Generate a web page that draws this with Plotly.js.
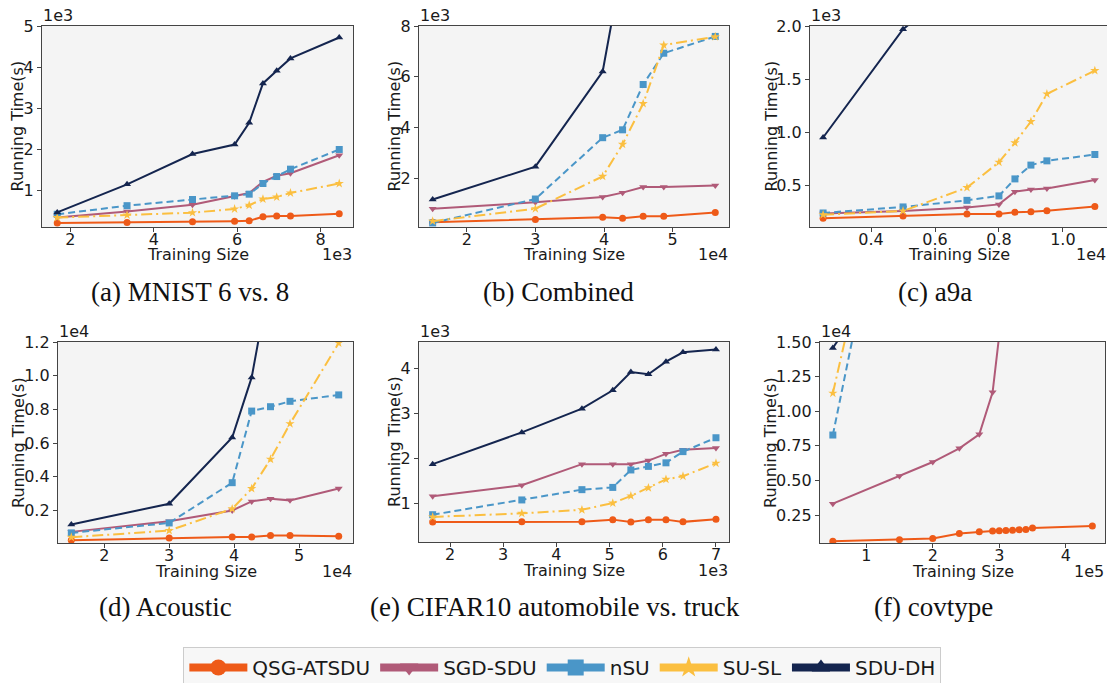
<!DOCTYPE html>
<html><head><meta charset="utf-8">
<script src="https://cdn.plot.ly/plotly-3.0.1.min.js"></script>
<style>html,body{margin:0;padding:0;background:#fff}#chart{width:1107px;height:683px}</style>
</head><body><div id="chart"></div>
<script>
const W = 1107, H = 683;
const seriesNames = ['QSG-ATSDU', 'SGD-SDU', 'nSU', 'SU-SL', 'SDU-DH'];
const seriesColors = ['#ee5a18', '#b05a78', '#4a96c8', '#fbbf40', '#14254f'];
const seriesSymbols = ['circle', 'triangle-down', 'square', 'star', 'triangle-up'];
const seriesDashes = ['solid', 'solid', '7px,4px', '11px,4px,2px,4px', 'solid'];

// (a) MNIST 6 vs. 8
const mnistX = [1685, 3360, 4930, 5940, 6290, 6620, 6950, 7280, 8450];
const mnistQSG = [200, 210, 230, 240, 250, 350, 370, 370, 420];
const mnistSGD = [330, 480, 640, 850, 930, 1200, 1350, 1410, 1850];
const mnistNSU = [410, 620, 770, 860, 900, 1160, 1330, 1510, 1990];
const mnistSUSL = [330, 390, 450, 540, 630, 780, 830, 930, 1160];
const mnistSDUDH = [455, 1140, 1880, 2110, 2640, 3600, 3910, 4210, 4720];

// (b) Combined
const combX = [15040, 30000, 39800, 42700, 45700, 48700, 56200];
const combQSG = [290, 390, 480, 440, 520, 520, 670];
const combSGD = [820, 1070, 1280, 1450, 1670, 1670, 1730];
const combNSU = [260, 1200, 3610, 3920, 5700, 6930, 7590];
const combSUSL = [330, 820, 2090, 3350, 4950, 7250, 7580];
const combSDUDH = [1180, 2470, 6210, 10500];

// (c) a9a
const a9aX = [2500, 5000, 7000, 8000, 8500, 9000, 9500, 11000];
const a9aQSG = [190, 210, 230, 230, 245, 250, 260, 300];
const a9aSGD = [233, 258, 290, 320, 440, 460, 470, 550];
const a9aNSU = [239, 296, 358, 400, 560, 690, 730, 790];
const a9aSUSL = [223, 258, 478, 717, 900, 1100, 1360, 1580];
const a9aSDUDH = [950, 1970, 2450];

// (d) Acoustic
const acouX = [14930, 30000, 39700, 42700, 45600, 48600, 56100];
const acouQSG = [230, 370, 430, 430, 510, 510, 470];
const acouSGD = [730, 1360, 2000, 2540, 2700, 2600, 3300];
const acouNSU = [670, 1260, 3650, 7900, 8160, 8480, 8860];
const acouSUSL = [410, 810, 2100, 3300, 5040, 7150, 11940];
const acouSDUDH = [1170, 2400, 6330, 9900, 16000];

// (e) CIFAR10 automobile vs. truck
const cifarX = [1674, 3350, 4480, 5060, 5400, 5730, 6060, 6380, 7000];
const cifarQSG = [575, 580, 580, 630, 575, 630, 630, 580, 640];
const cifarSGD = [1150, 1400, 1870, 1870, 1870, 1950, 2100, 2190, 2230];
const cifarNSU = [740, 1070, 1300, 1350, 1740, 1820, 1900, 2150, 2460];
const cifarSUSL = [690, 770, 850, 1000, 1160, 1340, 1530, 1600, 1890];
const cifarSDUDH = [1870, 2580, 3110, 3520, 3930, 3880, 4160, 4370, 4430];

// (f) covtype
const covQSGX = [49800, 150000, 200000, 240000, 270000, 290000, 300000, 310000, 320000, 330000, 340000, 350000, 440000];
const covQSG = [600, 720, 810, 1170, 1300, 1340, 1370, 1390, 1410, 1440, 1460, 1560, 1700];
const covSGDX = [49800, 150000, 200000, 240000, 270000, 290000, 300000];
const covSGD = [3320, 5320, 6330, 7320, 8330, 11370, 15500];
const covOtherX = [49800, 150000];
const covNSU = [8280, 31800];
const covSUSL = [11300, 32300];
const covSDUDH = [14570, 21700];

// tick labels
const aXTicks = [2000, 4000, 6000, 8000], aXText = ['2', '4', '6', '8'];
const aYTicks = [1000, 2000, 3000, 4000, 5000], aYText = ['1', '2', '3', '4', '5'];
const bXTicks = [20000, 30000, 40000, 50000], bXText = ['2', '3', '4', '5'];
const bYTicks = [2000, 4000, 6000, 8000], bYText = ['2', '4', '6', '8'];
const cXTicks = [4000, 6000, 8000, 10000], cXText = ['0.4', '0.6', '0.8', '1.0'];
const cYTicks = [500, 1000, 1500, 2000], cYText = ['0.5', '1.0', '1.5', '2.0'];
const dXTicks = [20000, 30000, 40000, 50000], dXText = ['2', '3', '4', '5'];
const dYTicks = [2000, 4000, 6000, 8000, 10000, 12000], dYText = ['0.2', '0.4', '0.6', '0.8', '1.0', '1.2'];
const eXTicks = [2000, 3000, 4000, 5000, 6000, 7000], eXText = ['2', '3', '4', '5', '6', '7'];
const eYTicks = [1000, 2000, 3000, 4000], eYText = ['1', '2', '3', '4'];
const fXTicks = [100000, 200000, 300000, 400000], fXText = ['1', '2', '3', '4'];
const fYTicks = [2500, 5000, 7500, 10000, 12500, 15000], fYText = ['0.25', '0.50', '0.75', '1.00', '1.25', '1.50'];

const xTitle = 'Training Size';
const yTitle = 'Running Time(s)';
const captions = ['(a) MNIST 6 vs. 8', '(b) Combined', '(c) a9a', '(d) Acoustic', '(e) CIFAR10 automobile vs. truck', '(f) covtype'];

const panels = [
  {box: [42, 353, 26, 227], xr: [1320, 8780], yr: [100, 5000], xt: [aXTicks, aXText], yt: [aYTicks, aYText], xe: '1e3', ye: '1e3', yto: 25,
   series: [[mnistX, mnistQSG], [mnistX, mnistSGD], [mnistX, mnistNSU], [mnistX, mnistSUSL], [mnistX, mnistSDUDH]], cap: [190, 292]},
  {box: [419, 729, 26, 227], xr: [13050, 58200], yr: [100, 8000], xt: [bXTicks, bXText], yt: [bYTicks, bYText], xe: '1e4', ye: '1e3', yto: 25,
   series: [[combX, combQSG], [combX, combSGD], [combX, combNSU], [combX, combSUSL], [combX, combSDUDH]], cap: [558, 292]},
  {box: [810, 1107, 26, 227], xr: [2090, 11380], yr: [107, 2000], xt: [cXTicks, cXText], yt: [cYTicks, cYText], xe: '1e4', ye: '1e3', yto: 39,
   series: [[a9aX, a9aQSG], [a9aX, a9aSGD], [a9aX, a9aNSU], [a9aX, a9aSUSL], [a9aX, a9aSDUDH]], cap: [935, 292]},
  {box: [58, 353, 342, 543], xr: [12880, 58300], yr: [70, 12000], xt: [dXTicks, dXText], yt: [dYTicks, dYText], xe: '1e4', ye: '1e4', yto: 39.5,
   series: [[acouX, acouQSG], [acouX, acouSGD], [acouX, acouNSU], [acouX, acouSUSL], [acouX, acouSDUDH]], cap: [165, 607]},
  {box: [419, 729, 342, 542], xr: [1417, 7245], yr: [130, 4600], xt: [eXTicks, eXText], yt: [eYTicks, eYText], xe: '1e3', ye: '1e3', yto: 25,
   series: [[cifarX, cifarQSG], [cifarX, cifarSGD], [cifarX, cifarNSU], [cifarX, cifarSUSL], [cifarX, cifarSDUDH]], cap: [555, 607]},
  {box: [820, 1105, 342, 543], xr: [30500, 459000], yr: [480, 15000], xt: [fXTicks, fXText], yt: [fYTicks, fYText], xe: '1e5', ye: '1e4', yto: 49.5,
   series: [[covQSGX, covQSG], [covSGDX, covSGD], [covOtherX, covNSU], [covOtherX, covSUSL], [covOtherX, covSDUDH]], cap: [933, 607]}
];

const FONT = 'DejaVu Sans, sans-serif';
const FS = 16;
const TXT = '#1a1a1a';
const traces = [];
const layout = {
  width: W, height: H,
  margin: {l: 0, r: 0, t: 0, b: 0, autoexpand: false},
  paper_bgcolor: '#ffffff', plot_bgcolor: '#f4f4f4',
  font: {family: FONT, size: FS, color: TXT},
  showlegend: true,
  legend: {orientation: 'h', x: 0.508, xanchor: 'center', y: 1 - 647 / H, yanchor: 'top',
           bgcolor: '#f7f7f7', bordercolor: '#cccccc', borderwidth: 1,
           font: {family: FONT, size: 20, color: TXT}, itemwidth: 58, tracegroupgap: 0},
  annotations: []
};

panels.forEach((p, i) => {
  const n = i === 0 ? '' : String(i + 1);
  const xa = 'x' + n, ya = 'y' + n;
  p.series.forEach((s, k) => {
    traces.push({
      type: 'scatter', mode: 'lines+markers', x: s[0], y: s[1], xaxis: xa, yaxis: ya,
      name: seriesNames[k], showlegend: false,
      line: {color: seriesColors[k], width: 2, dash: seriesDashes[k]},
      marker: {symbol: seriesSymbols[k], size: 7, color: seriesColors[k]}
    });
  });
  const common = {showgrid: false, zeroline: false, showline: true, mirror: true, linecolor: '#444', linewidth: 1.2,
                  ticks: 'outside', ticklen: 4, tickwidth: 1, tickcolor: '#444', automargin: false,
                  tickfont: {family: FONT, size: FS, color: TXT}};
  layout['xaxis' + n] = Object.assign({}, common, {
    domain: [p.box[0] / W, p.box[1] / W], range: p.xr, anchor: ya,
    tickmode: 'array', tickvals: p.xt[0], ticktext: p.xt[1], ticklabelstandoff: -6
  });
  layout['yaxis' + n] = Object.assign({}, common, {
    domain: [1 - p.box[3] / H, 1 - p.box[2] / H], range: p.yr, anchor: xa,
    tickmode: 'array', tickvals: p.yt[0], ticktext: p.yt[1]
  });
  const f = {family: FONT, size: FS, color: TXT};
  // axis titles
  layout.annotations.push({text: xTitle, xref: xa + ' domain', yref: ya + ' domain', x: 0.5, y: 0,
    xanchor: 'center', yanchor: 'middle', yshift: -28, showarrow: false, borderpad: 0, font: f});
  layout.annotations.push({text: yTitle, xref: xa + ' domain', yref: ya + ' domain', x: 0, y: 0.5,
    xanchor: 'center', yanchor: 'middle', xshift: -p.yto, textangle: -90, showarrow: false, borderpad: 0, font: f});
  // offset (exponent) texts
  layout.annotations.push({text: p.ye, xref: xa + ' domain', yref: ya + ' domain', x: 0, y: 1,
    xanchor: 'left', yanchor: 'bottom', showarrow: false, borderpad: 0, font: f});
  layout.annotations.push({text: p.xe, xref: xa + ' domain', yref: ya + ' domain', x: 1, y: 0,
    xanchor: 'right', yanchor: 'middle', yshift: -28, showarrow: false, borderpad: 0, font: f});
  // captions
  layout.annotations.push({text: captions[i], xref: 'paper', yref: 'paper', x: p.cap[0] / W, y: 1 - p.cap[1] / H,
    xanchor: 'center', yanchor: 'middle', showarrow: false, font: {family: 'Liberation Serif, serif', size: 27, color: '#111'}});
});

// legend-only traces
seriesNames.forEach((name, k) => {
  traces.push({
    type: 'scatter', mode: 'lines+markers', x: [null], y: [null], xaxis: 'x', yaxis: 'y',
    name: name, showlegend: true, hoverinfo: 'skip',
    line: {color: seriesColors[k], width: 8, dash: 'solid'},
    marker: {symbol: seriesSymbols[k], size: 16, color: seriesColors[k]}
  });
});

Plotly.newPlot('chart', traces, layout, {staticPlot: true});
</script>
</body></html>
